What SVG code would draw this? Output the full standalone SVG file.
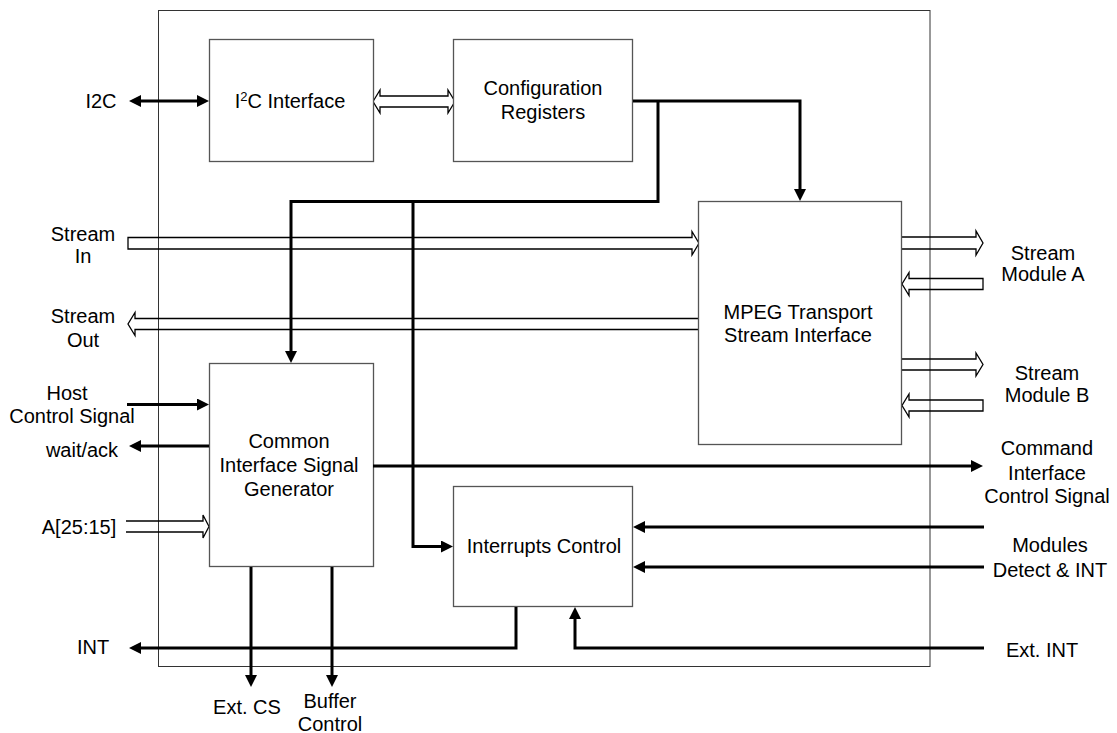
<svg xmlns="http://www.w3.org/2000/svg" width="1117" height="733" viewBox="0 0 1117 733">
<style>
text{font-family:"Liberation Sans",Arial,sans-serif;font-size:20px;fill:#000;text-anchor:middle}
.box{fill:#fff;stroke:#555;stroke-width:1.3}
.outer{fill:none;stroke:#333;stroke-width:1}
.thick{fill:none;stroke:#000;stroke-width:3;marker-end:url(#ah)}
.hollow{fill:none;stroke:#000;stroke-width:1.3;stroke-linejoin:miter}
</style>
<defs>
<marker id="ah" viewBox="0 0 12 12" markerWidth="12" markerHeight="12" refX="1" refY="6" orient="auto-start-reverse" markerUnits="userSpaceOnUse">
<path d="M0,0 L12,6 L0,12 Z" fill="#000"/>
</marker>
</defs>
<rect id="chip" class="outer" x="158.5" y="10.5" width="771.5" height="656"/>
<g id="hollow-connectors">
<path class="hollow" d="M373,101.5 L380,90 L380,96 L448,96 L448,90 L455,101.5 L448,113 L448,107 L380,107 L380,113 Z"/>
<path class="hollow" d="M128,237.5 H692 V231.5 L699,243.25 L692,255 V249 H128 Z"/>
<path class="hollow" d="M698,318.5 H135 V312.5 L128,324 L135,335.5 V329.5 H698"/>
<path class="hollow" d="M902,237 H976 V231 L983,243 L976,255 V249 H902"/>
<path class="hollow" d="M983,278.5 H909 V272.5 L902,284 L909,295.5 V289.5 H983 Z"/>
<path class="hollow" d="M902,359 H976 V353 L983,364.5 L976,376 V370 H902"/>
<path class="hollow" d="M983,400 H909 V394 L902,405.5 L909,417 V411 H983 Z"/>
<path class="hollow" d="M126,521 H203 V515 L209,526.5 L203,538 V532 H126"/>
</g>
<g id="i2c">
<rect class="box" x="209.5" y="39.5" width="164" height="122"/>
<text x="290" y="108">I<tspan dy="-7" font-size="13">2</tspan><tspan dy="7">C Interface</tspan></text>
</g>
<g id="config">
<rect class="box" x="453.5" y="39.5" width="179" height="122"/>
<text x="543" y="95">Configuration</text>
<text x="543" y="119">Registers</text>
</g>
<g id="mpeg">
<rect class="box" x="698.5" y="201.5" width="203" height="243"/>
<text x="798" y="318.5">MPEG Transport</text>
<text x="798" y="342">Stream Interface</text>
</g>
<g id="cisg">
<rect class="box" x="209.5" y="363.5" width="164" height="203"/>
<text x="289" y="448">Common</text>
<text x="289" y="472">Interface Signal</text>
<text x="289" y="496">Generator</text>
</g>
<g id="intctrl">
<rect class="box" x="453.5" y="486.5" width="179" height="120"/>
<text x="544" y="553">Interrupts Control</text>
</g>
<g id="connectors">
<path class="thick" d="M140,101 H198" marker-start="url(#ah)"/>
<path class="thick" d="M633,101 H800 V190"/>
<path class="thick" d="M658,101 V201.5 H291 V352"/>
<path class="thick" d="M413,201.5 V546.5 H442"/>
<path class="thick" d="M127,404.5 H198"/>
<path class="thick" d="M209,446 H140"/>
<path class="thick" d="M373,466 H972"/>
<path class="thick" d="M984,527 H644"/>
<path class="thick" d="M984,567 H644"/>
<path class="thick" d="M516,607 V648 H140"/>
<path class="thick" d="M984,648 H575 V618"/>
<path class="thick" d="M251,567 V676"/>
<path class="thick" d="M332,567 V676"/>
</g>
<g id="labels">
<text x="101" y="108">I2C</text>
<text x="83" y="241">Stream</text>
<text x="83" y="263">In</text>
<text x="83" y="322.5">Stream</text>
<text x="83" y="347">Out</text>
<text x="67" y="399.5">Host</text>
<text x="72" y="423">Control Signal</text>
<text x="82" y="457">wait/ack</text>
<text x="79" y="534">A[25:15]</text>
<text x="93" y="654">INT</text>
<text x="1043" y="260">Stream</text>
<text x="1043" y="281">Module A</text>
<text x="1047" y="380">Stream</text>
<text x="1047" y="402">Module B</text>
<text x="1047" y="455">Command</text>
<text x="1047" y="480">Interface</text>
<text x="1047" y="503">Control Signal</text>
<text x="1050" y="552">Modules</text>
<text x="1050" y="577">Detect &amp; INT</text>
<text x="1042" y="657">Ext. INT</text>
<text x="247" y="714">Ext. CS</text>
<text x="330" y="708">Buffer</text>
<text x="330" y="731">Control</text>
</g>
</svg>
